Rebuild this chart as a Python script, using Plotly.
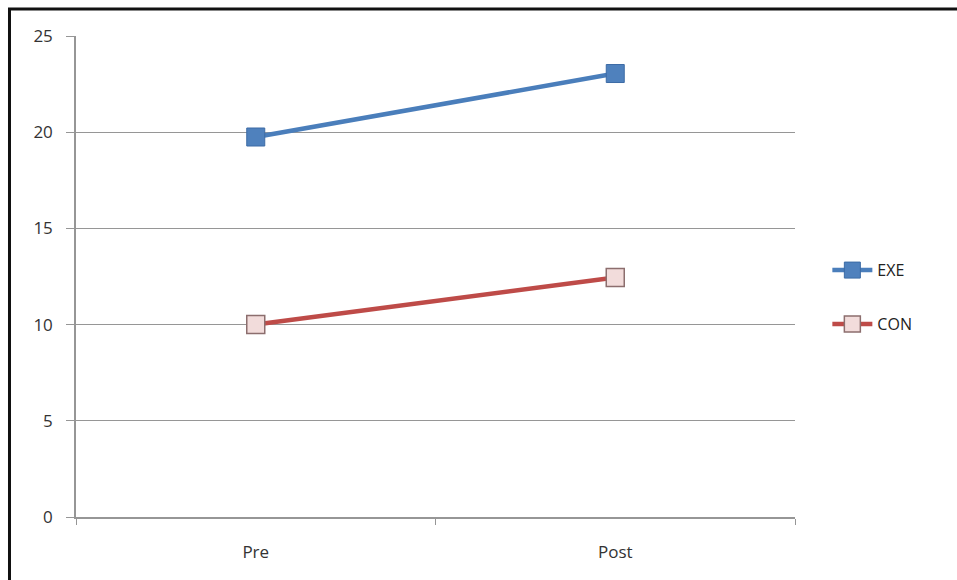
import plotly.graph_objects as go

# Pre/post means per group
phases = ["Pre", "Post"]
exe_values = [19.75, 23.05]
con_values = [10.0, 12.45]
y_ticks = [0, 5, 10, 15, 20, 25]

fig = go.Figure()

fig.add_trace(go.Scatter(
    x=phases, y=exe_values, name="EXE", mode="lines+markers",
    legendgroup="exe",
    line=dict(color="#4A7EBB", width=4.5),
    marker=dict(symbol="square", size=18, color="#4F81BD",
                line=dict(color="#3C6BA5", width=1)),
))
fig.add_trace(go.Scatter(
    x=phases, y=con_values, name="CON", mode="lines+markers",
    legendgroup="con",
    line=dict(color="#BE4B48", width=4.5),
    marker=dict(symbol="square", size=18, color="#F2DCDB",
                line=dict(color="#8C6E6E", width=1.5)),
))

axis_font = dict(family="Open Sans, Noto Sans, sans-serif", size=17, color="#333333")

fig.update_layout(
    width=957, height=580,
    margin=dict(l=76, r=162, t=36, b=63),
    plot_bgcolor="white", paper_bgcolor="white",
    showlegend=True,
    legend=dict(
        x=1.045, y=0.457, xanchor="left", yanchor="middle",
        font=dict(family="Open Sans, Noto Sans, sans-serif", size=16, color="#222222"),
        itemwidth=40, traceorder="grouped", tracegroupgap=30,
        bgcolor="rgba(0,0,0,0)",
    ),
    xaxis=dict(
        type="category", range=[-0.5, 1.5],
        showline=True, linecolor="#969696", linewidth=1.5,
        showgrid=False, ticks="outside", tickson="boundaries",
        ticklen=6, tickcolor="#969696", tickwidth=1,
        tickfont=axis_font, ticklabelstandoff=19,
    ),
    yaxis=dict(
        range=[0, 25], tickvals=y_ticks, ticktext=[str(v) for v in y_ticks],
        showline=True, linecolor="#969696", linewidth=1.5,
        showgrid=True, gridcolor="#969696", gridwidth=1.2,
        zeroline=False,
        ticks="outside", ticklen=8, tickcolor="#969696", tickwidth=1,
        tickfont=axis_font, ticklabelstandoff=10,
    ),
    shapes=[
        # frame along the top and left edges of the page
        dict(type="path", xref="paper", yref="paper",
             path="M 1.25 1.0562 L -0.0925 1.0562 L -0.0925 -0.15",
             line=dict(color="#111111", width=3)),
    ],
)

fig.write_html("out.html")
